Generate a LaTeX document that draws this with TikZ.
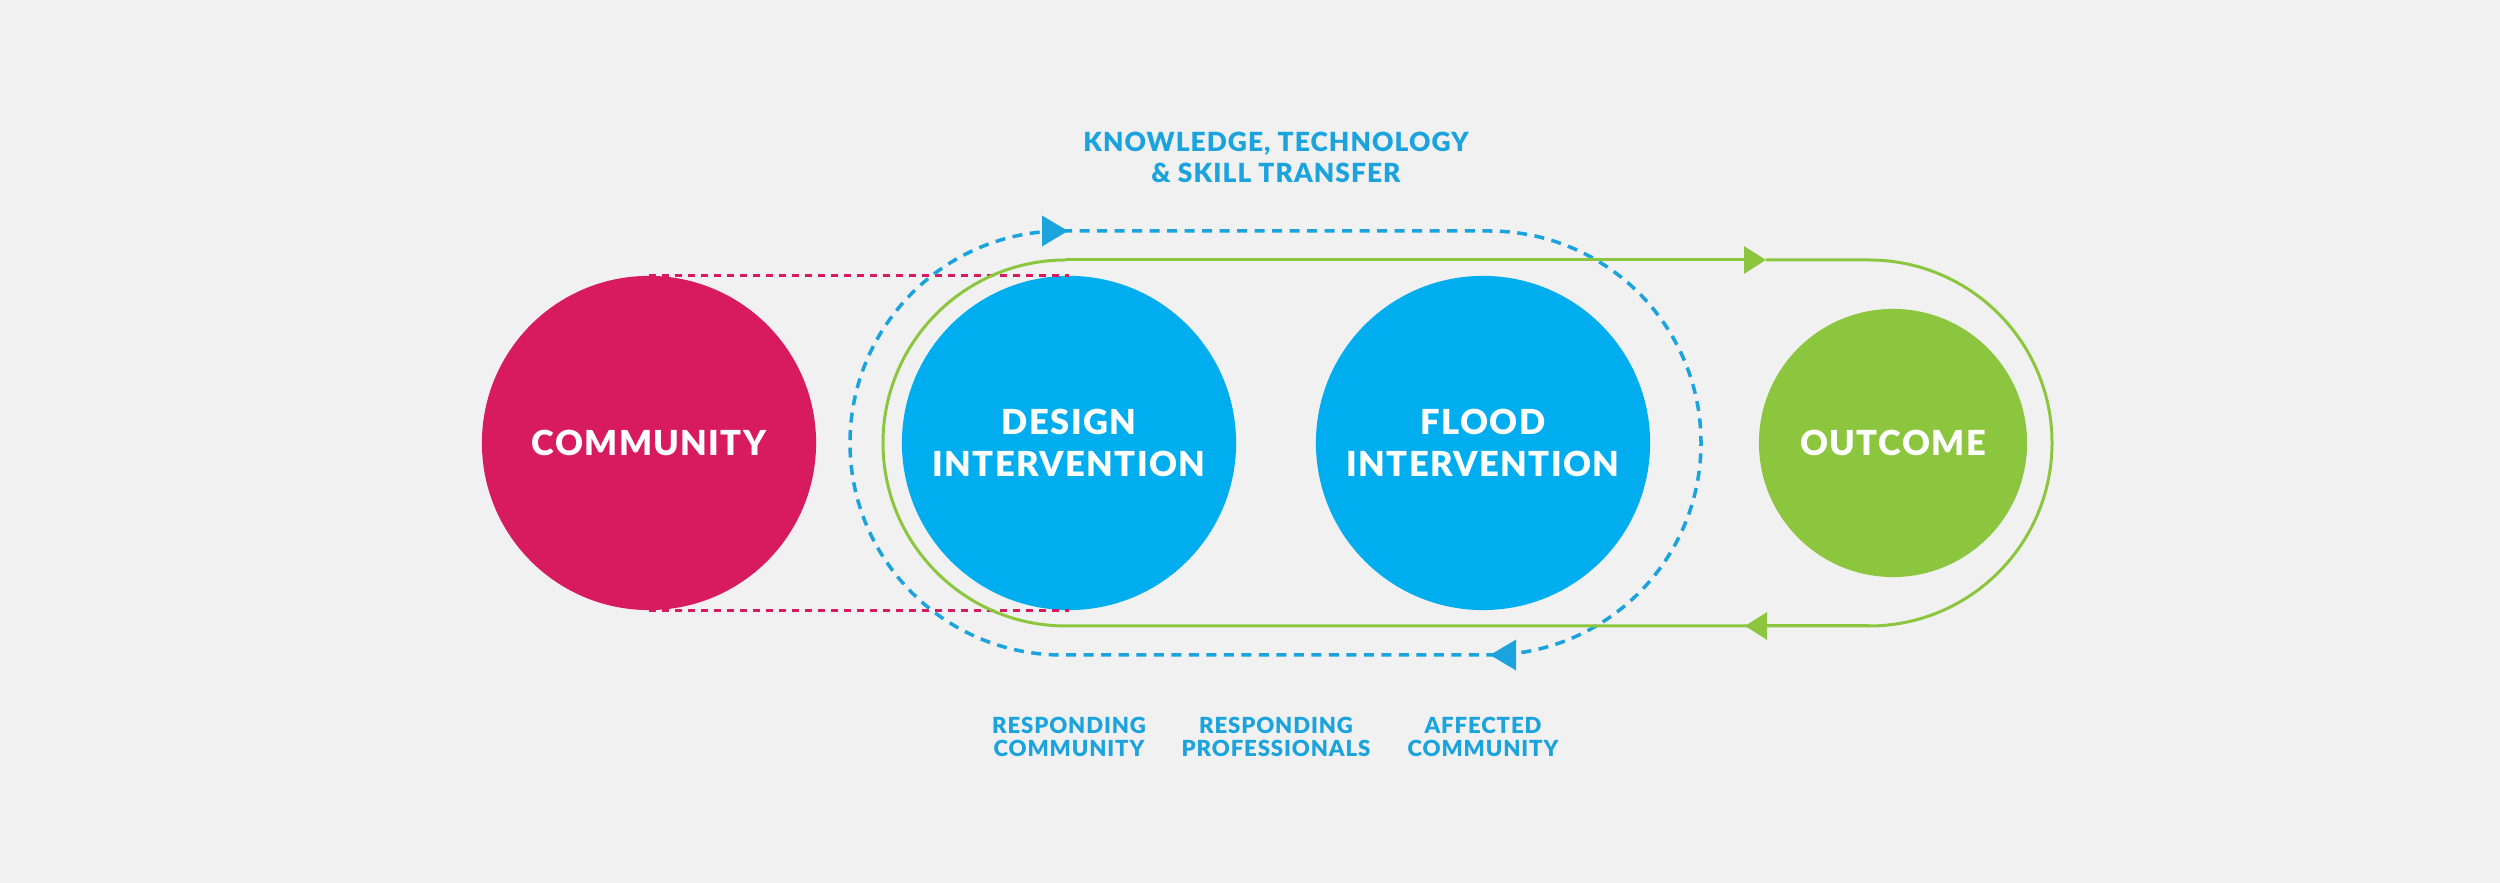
\documentclass[tikz,border=0pt]{standalone}
\usepackage{fontspec}
\setmainfont{Lato}[BoldFont={Lato Black}, LetterSpace=4]
\usetikzlibrary{arrows.meta}
\definecolor{commred}{RGB}{216,27,94}
\definecolor{dropblue}{RGB}{0,173,239}
\definecolor{lineblue}{RGB}{27,163,222}
\definecolor{leafgreen}{RGB}{140,198,63}
\definecolor{paper}{RGB}{241,241,241}

\begin{document}
\begin{tikzpicture}[x=0.01cm, y=0.01cm,
  bubble/.style={circle, inner sep=0pt, minimum size=3.34cm, text=white, align=center,
    font=\bfseries\fontsize{9.8}{11.8}\selectfont},
  note/.style={text=lineblue, align=center, font=\bfseries\fontsize{6.3}{6.6}\selectfont},
  loopline/.style={leafgreen, line width=0.85pt},
  transfer/.style={lineblue, line width=1pt, dash pattern=on 0.1cm off 0.075cm},
  link/.style={commred, line width=0.9pt, dash pattern=on 0.07cm off 0.06cm},
  greenhead/.style={leafgreen, line width=0.85pt, -{Triangle[length=0.22cm, width=0.27cm]}},
  bluehead/.style={lineblue, line width=1pt, -{Triangle[length=0.26cm, width=0.30cm]}}
]
  % Sizes
  \pgfmathsetmacro{\cy}{440}
  \pgfmathsetmacro{\rg}{183}
  \pgfmathsetmacro{\rb}{212}

  % background
  \fill[paper] (0,0) rectangle (2500,883);

  % circles
  \node[bubble, fill=commred] (comm) at (649,\cy) {COMMUNITY};
  \node[bubble, fill=dropblue] (design) at (1069,\cy) {DESIGN\\INTERVENTION};
  \node[bubble, fill=dropblue] (flood) at (1483,\cy) {FLOOD\\INTERVENTION};
  \node[bubble, fill=leafgreen, minimum size=2.68cm] (outcome) at (1893,\cy) {OUTCOME};

  % dashed links
  \draw[link] (comm.north) -- (design.north);
  \draw[link] (comm.south) -- (design.south);

  % transfer loop
  \coordinate (btl) at (1062,\cy+\rb);
  \coordinate (btr) at (1489,\cy+\rb);
  \coordinate (bbl) at (1062,\cy-\rb);
  \coordinate (bt1) at (1042,\cy+\rb);
  \coordinate (bt2) at (1068,\cy+\rb);
  \coordinate (bb1) at (1516,\cy-\rb);
  \coordinate (bb2) at (1490,\cy-\rb);
  \draw[transfer] (btl) -- (btr) arc[start angle=90, end angle=-90, radius=\rb]
    -- (bbl) arc[start angle=270, end angle=90, radius=\rb];
  \draw[bluehead] (bt1) -- (bt2);
  \draw[bluehead] (bb1) -- (bb2);

  % outcome loop
  \coordinate (gtl) at (1066,\cy+\rg);
  \coordinate (gtr) at (1869,\cy+\rg);
  \coordinate (gbl) at (1066,\cy-\rg);
  \coordinate (gbr) at (1869,\cy-\rg);
  \coordinate (gtop) at (1766,\cy+\rg);
  \coordinate (gbot) at (1745,\cy-\rg);
  \draw[greenhead] (gtl) -- (gtop);
  \draw[loopline] (gtop) -- (gtr) arc[start angle=90, end angle=-90, radius=\rg]
    -- (gbl) arc[start angle=270, end angle=90, radius=\rg];
  \draw[greenhead] (gbr) -- (gbot);

  % labels
  \node[note, font=\bfseries\fontsize{7.5}{8.8}\selectfont] (ktext) at (1276,726)
    {KNOWLEDGE, TECHNOLOGY\\\& SKILL TRANSFER};
  \node[note] (rc) at (1069,146) {RESPONDING\\COMMUNITY};
  \node[note] (rp) at (1276,146) {RESPONDING\\PROFESSIONALS};
  \node[note] (ac) at (1483,146) {AFFECTED\\COMMUNITY};
\end{tikzpicture}
\end{document}
